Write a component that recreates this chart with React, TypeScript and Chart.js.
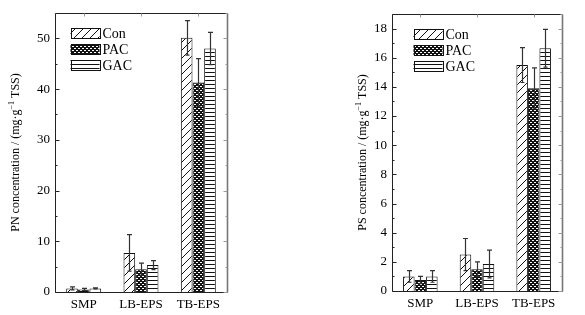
import React, { useEffect, useRef } from 'react';
import { Chart, registerables } from 'chart.js';

Chart.register(...registerables);

const categories = ['SMP', 'LB-EPS', 'TB-EPS'];
const seriesNames = ['Con', 'PAC', 'GAC'];

// PN concentration (left)
const pnCon = [0.7, 7.7, 50.1];
const pnConErr = [0.3, 3.6, 3.4];
const pnPac = [0.5, 4.5, 41.3];
const pnPacErr = [0.2, 1.2, 4.7];
const pnGac = [0.7, 5.3, 48.0];
const pnGacErr = [0.1, 0.9, 3.2];
const pnTicks = [0, 10, 20, 30, 40, 50];

// PS concentration (right)
const psCon = [1.0, 2.5, 15.5];
const psConErr = [0.4, 1.1, 1.2];
const psPac = [0.75, 1.5, 13.9];
const psPacErr = [0.25, 0.5, 1.4];
const psGac = [1.0, 1.85, 16.65];
const psGacErr = [0.4, 0.95, 1.3];
const psTicks = [0, 2, 4, 6, 8, 10, 12, 14, 16, 18];

const SERIF = '"Liberation Serif", "Times New Roman", serif';

function makePattern(kind: string): CanvasPattern | string {
  const c = document.createElement('canvas');
  const ctx = c.getContext('2d');
  if (!ctx) return '#fff';
  if (kind === 'diag') {
    const s = 8;
    c.width = s; c.height = s;
    ctx.fillStyle = '#fff';
    ctx.fillRect(0, 0, s, s);
    ctx.strokeStyle = '#111';
    ctx.lineWidth = 1;
    ctx.beginPath();
    ctx.moveTo(-1, s + 1); ctx.lineTo(s + 1, -1);
    ctx.moveTo(-1, 1); ctx.lineTo(1, -1);
    ctx.moveTo(s - 1, s + 1); ctx.lineTo(s + 1, s - 1);
    ctx.stroke();
  } else if (kind === 'cross') {
    const s = 4;
    c.width = s; c.height = s;
    ctx.fillStyle = '#fff';
    ctx.fillRect(0, 0, s, s);
    ctx.fillStyle = '#111';
    for (let x = 0; x < s; x++) {
      for (let y = 0; y < s; y++) {
        const a = (x + y) % 4;
        const b = ((x - y) % 4 + 4) % 4;
        if (a < 2 || b < 2) ctx.fillRect(x, y, 1, 1);
      }
    }
  } else {
    c.width = 4; c.height = 4;
    ctx.fillStyle = '#fff';
    ctx.fillRect(0, 0, 4, 4);
    ctx.fillStyle = '#111';
    ctx.fillRect(0, 0, 4, 1);
  }
  const p = ctx.createPattern(c, 'repeat');
  return p || '#fff';
}

type Cfg = {
  values: number[][];
  errors: number[][];
  ticks: number[];
  max: number;
  minorStep: number;
  titleMain: string;
  titleSup: string;
  titleEnd: string;
  titleX: number;
  legendX: number;
  legendY: number;
  yWidth: number;
  xHeight: number;
  padTop: number;
  padRight: number;
};

function buildChart(canvas: HTMLCanvasElement, cfg: Cfg) {
  const patterns = [makePattern('diag'), makePattern('cross'), makePattern('horiz')];

  const decor = {
    id: 'decor',
    afterDatasetsDraw(chart: any) {
      const ctx = chart.ctx;
      const yScale = chart.scales.y;
      const xScale = chart.scales.x;
      const area = chart.chartArea;
      ctx.save();
      // error bars
      ctx.strokeStyle = '#333';
      ctx.lineWidth = 1.2;
      chart.data.datasets.forEach((ds: any, di: number) => {
        const meta = chart.getDatasetMeta(di);
        meta.data.forEach((el: any, i: number) => {
          const v = cfg.values[di][i];
          const e = cfg.errors[di][i];
          const x = Math.round(el.x) + 0.5;
          const yt = yScale.getPixelForValue(v + e);
          const yb = yScale.getPixelForValue(Math.max(0, v - e));
          ctx.beginPath();
          ctx.moveTo(x, yt); ctx.lineTo(x, yb);
          ctx.moveTo(x - 2.5, yt); ctx.lineTo(x + 2.5, yt);
          ctx.moveTo(x - 2, yb); ctx.lineTo(x + 2, yb);
          ctx.stroke();
        });
      });
      // frame
      const L = Math.round(area.left) + 0.5;
      const R = Math.round(area.right) + 0.5;
      const T = Math.round(area.top) + 0.5;
      const B = Math.round(area.bottom) + 0.5;
      ctx.lineWidth = 1;
      ctx.strokeStyle = '#222';
      ctx.beginPath();
      ctx.moveTo(R, T); ctx.lineTo(L, T); ctx.lineTo(L, B); ctx.lineTo(R, B);
      ctx.stroke();
      ctx.strokeStyle = '#777';
      ctx.lineWidth = 1.6;
      ctx.beginPath();
      ctx.moveTo(R, T); ctx.lineTo(R, B);
      ctx.stroke();
      // ticks on y (inward), left and right
      for (let v = 0; v <= cfg.max + 1e-9; v += cfg.minorStep) {
        const y = Math.round(yScale.getPixelForValue(v)) + 0.5;
        const major = cfg.ticks.some((t) => Math.abs(t - v) < 1e-6);
        const len = major ? 4 : 2;
        ctx.strokeStyle = '#222';
        ctx.lineWidth = 1;
        ctx.beginPath();
        ctx.moveTo(L, y); ctx.lineTo(L + len, y);
        ctx.stroke();
        ctx.strokeStyle = '#999';
        ctx.beginPath();
        ctx.moveTo(R, y); ctx.lineTo(R - len, y);
        ctx.stroke();
      }
      // top ticks at categories
      ctx.strokeStyle = '#999';
      ctx.lineWidth = 1;
      categories.forEach((_c, i) => {
        const x = Math.round(xScale.getPixelForValue(i)) + 0.5;
        ctx.beginPath();
        ctx.moveTo(x, T); ctx.lineTo(x, T + 3);
        ctx.stroke();
      });
      // legend
      ctx.font = '14px ' + SERIF;
      ctx.textBaseline = 'middle';
      ctx.textAlign = 'left';
      seriesNames.forEach((name, i) => {
        const y = cfg.legendY + i * 16;
        const x0 = L + cfg.legendX;
        ctx.fillStyle = patterns[i] as any;
        ctx.fillRect(x0, y - 5, 29, 10);
        ctx.strokeStyle = '#111';
        ctx.lineWidth = 1;
        ctx.strokeRect(Math.round(x0) + 0.5, Math.round(y - 5) + 0.5, 29, 10);
        ctx.fillStyle = '#000';
        ctx.fillText(name, x0 + 32, y + 1);
      });
      // y title
      ctx.translate(cfg.titleX, (area.top + area.bottom) / 2);
      ctx.rotate(-Math.PI / 2);
      const f1 = '12px ' + SERIF;
      const f2 = '8px ' + SERIF;
      ctx.font = f1;
      const w1 = ctx.measureText(cfg.titleMain).width;
      const w3 = ctx.measureText(cfg.titleEnd).width;
      ctx.font = f2;
      const w2 = ctx.measureText(cfg.titleSup).width;
      const total = w1 + w2 + w3;
      let x = -total / 2;
      ctx.fillStyle = '#000';
      ctx.textBaseline = 'middle';
      ctx.font = f1;
      ctx.fillText(cfg.titleMain, x, 0);
      x += w1;
      ctx.font = f2;
      ctx.fillText(cfg.titleSup, x, -4);
      x += w2;
      ctx.font = f1;
      ctx.fillText(cfg.titleEnd, x, 0);
      ctx.restore();
    },
  };

  return new Chart(canvas, {
    type: 'bar',
    data: {
      labels: categories,
      datasets: seriesNames.map((name, i) => ({
        label: name,
        data: cfg.values[i],
        backgroundColor: patterns[i] as any,
        borderColor: '#111',
        borderWidth: 1,
        barPercentage: 1,
        categoryPercentage: 0.61,
      })),
    },
    options: {
      responsive: false,
      animation: false,
      layout: { padding: { top: cfg.padTop, right: cfg.padRight, left: 0, bottom: 0 } },
      plugins: { legend: { display: false }, tooltip: { enabled: false } },
      scales: {
        x: {
          grid: { display: false, drawTicks: false },
          border: { display: false },
          ticks: { color: '#000', font: { family: SERIF, size: 13 }, padding: 5 },
          afterFit: (s: any) => { s.height = cfg.xHeight; },
        },
        y: {
          min: 0,
          max: cfg.max,
          grid: { display: false, drawTicks: false },
          border: { display: false },
          ticks: { color: '#000', font: { family: SERIF, size: 13 }, padding: 5 },
          afterBuildTicks: (s: any) => { s.ticks = cfg.ticks.map((v) => ({ value: v })); },
          afterFit: (s: any) => { s.width = cfg.yWidth; },
        },
      },
    },
    plugins: [decor],
  } as any);
}

export default function App() {
  const leftRef = useRef<HTMLCanvasElement>(null);
  const rightRef = useRef<HTMLCanvasElement>(null);

  useEffect(() => {
    const c1 = buildChart(leftRef.current as HTMLCanvasElement, {
      values: [pnCon, pnPac, pnGac],
      errors: [pnConErr, pnPacErr, pnGacErr],
      ticks: pnTicks,
      max: 55,
      minorStep: 5,
      titleMain: 'PN concentration / (mg·g',
      titleSup: '−1',
      titleEnd: ' TSS)',
      titleX: 16,
      legendX: 15,
      legendY: 33,
      yWidth: 55,
      xHeight: 23,
      padTop: 13,
      padRight: 63,
    });
    const c2 = buildChart(rightRef.current as HTMLCanvasElement, {
      values: [psCon, psPac, psGac],
      errors: [psConErr, psPacErr, psGacErr],
      ticks: psTicks,
      max: 19,
      minorStep: 1,
      titleMain: 'PS concentration / (mg·g',
      titleSup: '−1',
      titleEnd: ' TSS)',
      titleX: 73,
      legendX: 21,
      legendY: 34,
      yWidth: 102,
      xHeight: 24,
      padTop: 14,
      padRight: 23,
    });
    return () => { c1.destroy(); c2.destroy(); };
  }, []);

  return (
    <div style={{ position: 'absolute', left: 0, top: 0, width: 585, height: 315, background: '#fff' }}>
      <canvas ref={leftRef} width={290} height={315} style={{ position: 'absolute', left: 0, top: 0, width: 290, height: 315 }} />
      <canvas ref={rightRef} width={295} height={315} style={{ position: 'absolute', left: 290, top: 0, width: 295, height: 315 }} />
    </div>
  );
}
